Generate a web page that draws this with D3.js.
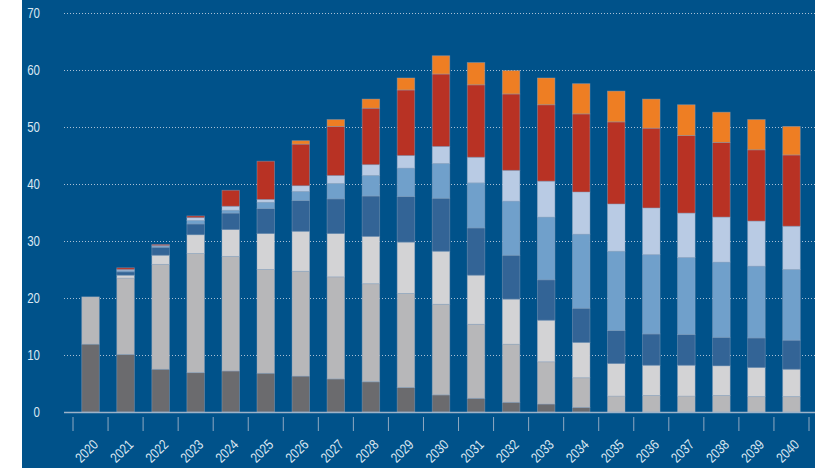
<!DOCTYPE html>
<html>
<head>
<meta charset="utf-8">
<script src="https://cdn.jsdelivr.net/npm/d3@7"></script>
<style>
  html, body { margin: 0; padding: 0; background: #fff; }
  svg { display: block; }
  text { font-family: "Liberation Sans Narrow", "Liberation Sans", "DejaVu Sans", sans-serif; font-stretch: condensed; }
</style>
</head>
<body>
<script>
// years on the x axis
var years = ['2020','2021','2022','2023','2024','2025','2026','2027','2028','2029','2030',
             '2031','2032','2033','2034','2035','2036','2037','2038','2039','2040'];

// stacked segments, bottom to top
var darkGray  = [11.9,10.1,7.5,6.9,7.2,6.8,6.3,5.8,5.3,4.3,3.0,2.4,1.7,1.4,0.8,0,0,0,0,0,0];
var midGray   = [8.3,13.4,18.4,20.9,20.1,18.2,18.4,17.9,17.2,16.5,15.9,13.0,10.2,7.4,5.2,2.8,2.9,2.8,2.9,2.7,2.7];
var lightGray = [0,0.5,1.6,3.3,4.7,6.3,7.0,7.6,8.3,9.0,9.3,8.6,7.9,7.3,6.2,5.7,5.3,5.4,5.2,5.1,4.8];
var darkBlue  = [0,0.6,1.4,1.9,2.9,4.4,5.4,6.1,7.1,8.0,9.3,8.3,7.7,7.1,6.0,5.8,5.5,5.4,5.0,5.2,5.1];
var midBlue   = [0,0.2,0.2,0.6,0.5,1.1,1.6,2.7,3.6,5.0,6.1,7.9,9.5,11.0,13.0,13.9,13.9,13.5,13.2,12.6,12.4];
var lightBlue = [0,0.2,0.1,0.5,0.7,0.5,1.0,1.4,1.9,2.2,3.0,4.5,5.4,6.3,7.4,8.3,8.2,7.8,7.9,7.9,7.6];
var red       = [0,0.3,0.2,0.3,2.8,6.7,7.3,8.6,9.9,11.5,12.7,12.7,13.4,13.4,13.7,14.4,14.0,13.6,13.1,12.5,12.5];
var orange    = [0,0,0,0,0,0,0.6,1.2,1.6,2.1,3.2,3.9,4.1,4.7,5.3,5.4,5.1,5.4,5.3,5.3,5.0];

var yTicks = [0,10,20,30,40,50,60,70];

var seriesKeys = ['darkGray','midGray','lightGray','darkBlue','midBlue','lightBlue','red','orange'];
var seriesVals = [darkGray, midGray, lightGray, darkBlue, midBlue, lightBlue, red, orange];
var colors = ['#6b6b6e','#b7b7b9','#d3d3d5','#336496','#70a0cb','#b9cbe4','#b83224','#ee7e23'];

var width = 815, height = 468;
var bg = '#00528a';

var rows = years.map(function (y, i) {
    var r = { year: y };
    seriesKeys.forEach(function (k, j) { r[k] = seriesVals[j][i]; });
    return r;
});

var svg = d3.select('body').append('svg').attr('width', width).attr('height', height);

svg.append('rect').attr('x', 22).attr('y', 0).attr('width', width - 22).attr('height', height).attr('fill', bg);

var x = d3.scaleBand().domain(years).range([73, 809]).paddingInner(0.5).paddingOuter(0.25);
var y = d3.scaleLinear().domain([0, 70]).range([412, 13]);

// squeeze the labels horizontally if no narrow face is available
function narrow(sel, target) {
    sel.each(function () {
        var w = this.getComputedTextLength();
        var s = Math.min(1, target / w);
        d3.select(this).attr('data-sx', s);
    });
}

// gridlines
svg.append('g').selectAll('line')
    .data(yTicks.filter(function (d) { return d > 0; }))
    .enter().append('line')
    .attr('x1', 64).attr('x2', width)
    .attr('y1', function (d) { return y(d) + 0.5; })
    .attr('y2', function (d) { return y(d) + 0.5; })
    .attr('stroke', '#a9c0d6')
    .attr('stroke-width', 1)
    .attr('stroke-dasharray', '1,2');

// y labels
var yl = svg.append('g').selectAll('text')
    .data(yTicks)
    .enter().append('text')
    .attr('text-anchor', 'end')
    .attr('dy', '0.36em')
    .attr('fill', '#dbe7f2')
    .style('font-size', '14px')
    .text(function (d) { return d; });

var digitW = 6.4;
yl.each(function (d) {
    var w = this.getComputedTextLength();
    var s = Math.min(1, (String(d).length * digitW) / w);
    d3.select(this).attr('transform', 'translate(40,' + y(d) + ') scale(' + s + ',1)');
});

// bars
var stack = d3.stack().keys(seriesKeys)(rows);

svg.append('g').selectAll('g')
    .data(stack)
    .enter().append('g')
    .attr('fill', function (d, i) { return colors[i]; })
    .selectAll('rect')
    .data(function (d) { return d.filter(function (s) { return s[1] - s[0] > 0; }); })
    .enter().append('rect')
    .attr('x', function (d) { return x(d.data.year); })
    .attr('width', x.bandwidth())
    .attr('y', function (d) { return y(d[1]); })
    .attr('height', function (d) { return y(d[0]) - y(d[1]); })
    .attr('stroke', 'rgba(150,170,195,0.5)')
    .attr('stroke-width', 0.8);

// zero line
svg.append('line')
    .attr('x1', 64).attr('x2', width)
    .attr('y1', y(0) + 0.5).attr('y2', y(0) + 0.5)
    .attr('stroke', '#9db3c9')
    .attr('stroke-width', 1.5);

// x ticks between bars
var step = x.step();
var tickPos = years.map(function (d) { return x(d) - (step - x.bandwidth()) / 2; });
tickPos.push(x(years[years.length - 1]) + x.bandwidth() + (step - x.bandwidth()) / 2);

svg.append('g').selectAll('line')
    .data(tickPos)
    .enter().append('line')
    .attr('x1', function (d) { return d; })
    .attr('x2', function (d) { return d; })
    .attr('y1', 417).attr('y2', 431)
    .attr('stroke', '#8fa9c2')
    .attr('stroke-width', 1);

// x labels
var xl = svg.append('g').selectAll('text')
    .data(years)
    .enter().append('text')
    .attr('text-anchor', 'middle')
    .attr('dy', '0.36em')
    .attr('fill', '#dbe7f2')
    .style('font-size', '14px')
    .text(function (d) { return d; });

xl.each(function (d) {
    var w = this.getComputedTextLength();
    var s = Math.min(1, (4 * digitW) / w);
    d3.select(this).attr('transform', 'translate(' + (x(d) + x.bandwidth() / 2 - 4) + ',451) rotate(-45) scale(' + s + ',1)');
});
</script>
</body>
</html>
